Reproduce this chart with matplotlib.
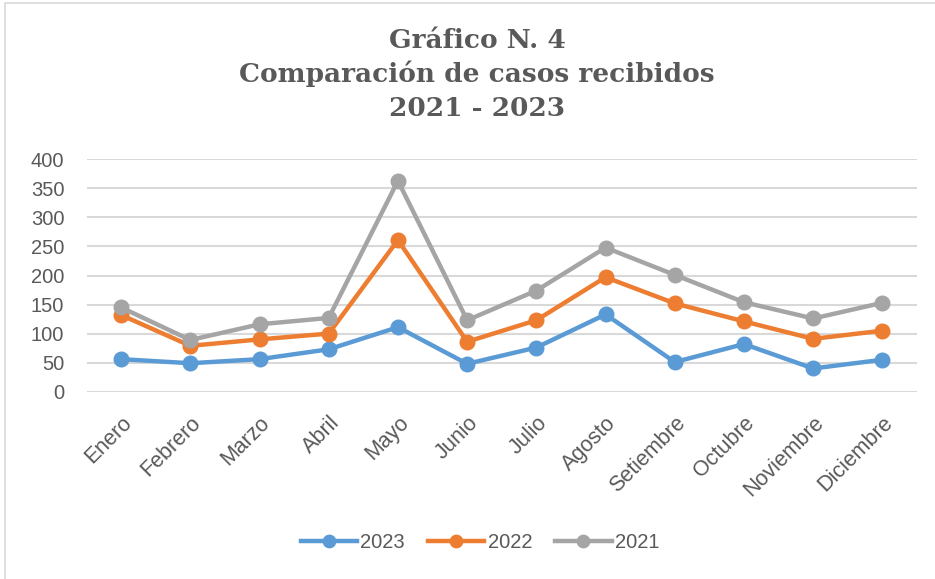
import matplotlib
matplotlib.use("Agg")
import matplotlib.pyplot as plt
from matplotlib.patches import Rectangle

# Data
months = ["Enero", "Febrero", "Marzo", "Abril", "Mayo", "Junio", "Julio",
          "Agosto", "Setiembre", "Octubre", "Noviembre", "Diciembre"]
casos_2023 = [56, 49, 56, 73, 111, 48, 76, 133, 51, 82, 40, 55]
casos_2022 = [132, 79, 90, 100, 261, 86, 123, 197, 152, 121, 91, 105]
casos_2021 = [145, 89, 116, 127, 363, 123, 174, 248, 201, 154, 126, 153]
yticks = [0, 50, 100, 150, 200, 250, 300, 350, 400]

TEXT = "#595959"

fig = plt.figure(figsize=(9.35, 5.79), dpi=100)
fig.patches.append(Rectangle((5 / 935, -0.05), 1.1, 1.05 - 3 / 579,
                             transform=fig.transFigure, fill=False,
                             edgecolor="#D9D9D9", linewidth=1.2))

ax = fig.add_axes([86.5 / 935, 1 - 391.7 / 579, 830.5 / 935, 232.4 / 579])

x = range(len(months))
series = [("2023", casos_2023, "#5B9BD5"),
          ("2022", casos_2022, "#ED7D31"),
          ("2021", casos_2021, "#A5A5A5")]
for name, vals, col in series:
    ax.plot(x, vals, color=col, lw=3.2, marker="o", markersize=10.5,
            label=name, solid_joinstyle="round", zorder=3)

ax.set_xlim(-0.5, len(months) - 0.5)
ax.set_ylim(0, 400)
ax.set_yticks(yticks)
ax.set_yticklabels([str(v) for v in yticks], fontsize=14.5, color=TEXT,
                   family="Liberation Sans")
ax.set_xticks(list(x))
ax.set_xticklabels(months, rotation=45, ha="right", rotation_mode="anchor",
                   fontsize=15.5, color=TEXT, family="Liberation Sans")
ax.tick_params(length=0)
ax.tick_params(axis="y", pad=16)
ax.tick_params(axis="x", pad=15)
ax.grid(axis="y", color="#D9D9D9", lw=1.5)
ax.set_axisbelow(True)
for s in ax.spines.values():
    s.set_visible(False)

title_lines = ["Gráfico N. 4", "Comparación de casos recibidos", "2021 - 2023"]
for i, line in enumerate(title_lines):
    fig.text(477 / 935, 1 - (40 + 34 * i) / 579, line, ha="center",
             va="center", fontsize=19, fontweight="bold", color=TEXT,
             family="DejaVu Serif")

fig.legend(loc="center", bbox_to_anchor=(480 / 935, 1 - 543 / 579), ncol=3,
           frameon=False, handlelength=2.8, columnspacing=1.15,
           handletextpad=0.15, labelcolor=TEXT, markerscale=0.85,
           prop={"family": "Liberation Sans", "size": 14.5})

fig.savefig("out.png", dpi=100)
